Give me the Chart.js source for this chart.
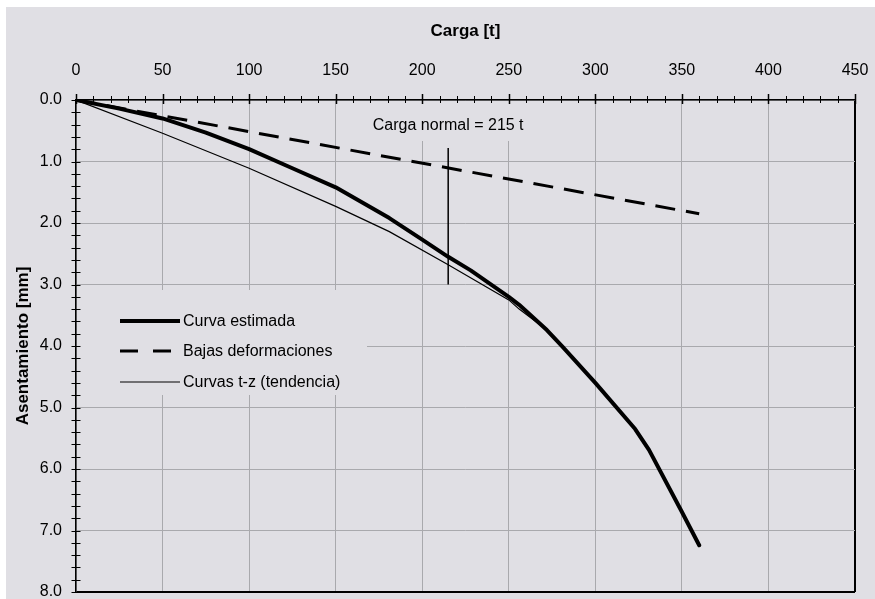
<!DOCTYPE html>
<html>
<head>
<meta charset="utf-8">
<script src="https://cdn.jsdelivr.net/npm/chart.js@4.4.1/dist/chart.umd.min.js"></script>
<style>
  html, body { margin: 0; padding: 0; background: #fff; }
  canvas { display: block; }
</style>
</head>
<body>
<canvas id="grafico" width="875" height="599"></canvas>
<script>
// Curva estimada (carga [t] -> asentamiento [mm])
const cargaEstimada = [0, 25, 50, 75, 100, 125, 150, 181, 200, 215, 228, 250, 256, 272, 281, 300, 323, 331, 349.5, 360];
const asentEstimada = [0, 0.14, 0.30, 0.53, 0.80, 1.11, 1.42, 1.92, 2.27, 2.55, 2.77, 3.20, 3.33, 3.74, 4.01, 4.60, 5.35, 5.69, 6.67, 7.24];

// Bajas deformaciones (recta)
const cargaBajas = [0, 360];
const asentBajas = [0, 1.85];

// Curvas t-z (tendencia)
const cargaTz = [0, 50, 100, 150, 181, 215, 250, 256, 272, 281, 300];
const asentTz = [0, 0.54, 1.11, 1.73, 2.14, 2.68, 3.25, 3.40, 3.74, 4.01, 4.60];

// Linea de carga normal
const cargaNormal = 215;
const asentNormal = [0.78, 3.0];

const ticksCarga = [0, 50, 100, 150, 200, 250, 300, 350, 400, 450];
const ticksAsent = [0, 1, 2, 3, 4, 5, 6, 7, 8];

const etiquetas = ['Curva estimada', 'Bajas deformaciones', 'Curvas t-z (tendencia)'];
const textoNormal = 'Carga normal = 215 t';

const FONDO = '#e0dfe4';
const REJILLA = '#a9a9ad';
const FUENTE = '"Liberation Sans", Arial, sans-serif';

const pares = (xs, ys) => xs.map((v, i) => ({ x: v, y: ys[i] }));

Chart.defaults.font.family = FUENTE;
Chart.defaults.font.size = 16;
Chart.defaults.color = '#000';

// fondo gris (con borde blanco arriba e izquierda)
const fondo = {
  id: 'fondo',
  beforeDraw(chart) {
    const c = chart.ctx;
    c.save();
    c.fillStyle = FONDO;
    c.fillRect(6, 7, chart.width - 6, chart.height - 7);
    c.restore();
  }
};

// cajas de leyenda y texto de carga normal (tapan la rejilla)
const cajas = {
  id: 'cajas',
  beforeDatasetsDraw(chart) {
    const { ctx, chartArea: a, scales: { x } } = chart;
    ctx.save();
    ctx.font = '16px ' + FUENTE;

    // texto carga normal
    const cx = x.getPixelForValue(cargaNormal);
    const w = ctx.measureText(textoNormal).width;
    ctx.fillStyle = FONDO;
    ctx.fillRect(cx - w / 2 - 12, a.top + 1, w + 24, 40);
    ctx.fillStyle = '#000';
    ctx.textAlign = 'center';
    ctx.textBaseline = 'middle';
    ctx.fillText(textoNormal, cx, a.top + 26);

    // leyenda
    const lx = a.left + 1, ly = a.top + 190;
    ctx.fillStyle = FONDO;
    ctx.fillRect(lx, ly, 290, 105);
    const filas = [ly + 31, ly + 61, ly + 92];
    const x0 = a.left + 44, x1 = a.left + 104;
    ctx.strokeStyle = '#000';
    ctx.lineCap = 'butt';
    // curva estimada
    ctx.lineWidth = 4;
    ctx.beginPath(); ctx.moveTo(x0, filas[0]); ctx.lineTo(x1, filas[0]); ctx.stroke();
    // bajas deformaciones
    ctx.lineWidth = 3;
    ctx.setLineDash([18, 15]);
    ctx.beginPath(); ctx.moveTo(x0, filas[1]); ctx.lineTo(x1, filas[1]); ctx.stroke();
    ctx.setLineDash([]);
    // t-z
    ctx.lineWidth = 1.2;
    ctx.beginPath(); ctx.moveTo(x0, filas[2]); ctx.lineTo(x1, filas[2]); ctx.stroke();

    ctx.fillStyle = '#000';
    ctx.textAlign = 'left';
    ctx.textBaseline = 'middle';
    etiquetas.forEach((t, i) => ctx.fillText(t, x1 + 3, filas[i] + 1));
    ctx.restore();
  },
  afterDraw(chart) {
    const { ctx, chartArea: a, scales: { x, y } } = chart;
    ctx.save();
    ctx.strokeStyle = '#000';
    // marcas del eje de carga (cada 10 t)
    for (let v = 0; v <= 450; v += 10) {
      const mayor = v % 50 === 0;
      const px = Math.round(x.getPixelForValue(v)) + 0.5;
      ctx.lineWidth = mayor ? 1.5 : 1;
      ctx.beginPath();
      ctx.moveTo(px, a.top - (mayor ? 6 : 4));
      ctx.lineTo(px, a.top + (mayor ? 4 : 3));
      ctx.stroke();
    }
    // marcas del eje de asentamiento (cada 0.2 mm)
    for (let i = 0; i <= 40; i++) {
      const py = Math.round(y.getPixelForValue(i * 0.2)) + 0.5;
      ctx.lineWidth = 1;
      ctx.beginPath();
      ctx.moveTo(a.left - 4.5, py);
      ctx.lineTo(a.left + 4.5, py);
      ctx.stroke();
    }
    ctx.restore();
  }
};

const colorRejilla = (max) => (c) => (c.tick && c.tick.value === max ? '#000' : REJILLA);
const anchoRejilla = (max) => (c) => (c.tick && c.tick.value === max ? 2 : 1);

new Chart(document.getElementById('grafico'), {
  type: 'scatter',
  data: {
    datasets: [
      {
        label: etiquetas[0],
        data: pares(cargaEstimada, asentEstimada),
        showLine: true,
        borderColor: '#000',
        borderWidth: 4,
        pointRadius: 0,
        borderJoinStyle: 'round',
        borderCapStyle: 'round'
      },
      {
        label: etiquetas[1],
        data: pares(cargaBajas, asentBajas),
        showLine: true,
        borderColor: '#000',
        borderWidth: 3,
        borderDash: [20, 11],
        pointRadius: 0
      },
      {
        label: etiquetas[2],
        data: pares(cargaTz, asentTz),
        showLine: true,
        borderColor: '#000',
        borderWidth: 1.2,
        pointRadius: 0
      },
      {
        label: 'Carga normal',
        data: asentNormal.map(v => ({ x: cargaNormal, y: v })),
        showLine: true,
        borderColor: '#000',
        borderWidth: 1.5,
        pointRadius: 0
      }
    ]
  },
  options: {
    responsive: false,
    animation: false,
    layout: { padding: { left: 0, top: 0, right: 20, bottom: 7 } },
    plugins: {
      legend: { display: false },
      tooltip: { enabled: false }
    },
    scales: {
      x: {
        type: 'linear',
        position: 'top',
        min: 0,
        max: 450,
        afterBuildTicks: (s) => { s.ticks = ticksCarga.map(v => ({ value: v })); },
        afterFit: (s) => { s.height = 100; s.paddingLeft = 0; s.paddingRight = 0; },
        ticks: { padding: 20, maxRotation: 0, color: '#000' },
        grid: { drawTicks: false, color: colorRejilla(450), lineWidth: anchoRejilla(450) },
        border: { display: true, color: '#000', width: 1.5 },
        title: {
          display: true,
          text: 'Carga [t]',
          font: { size: 17, weight: 'bold' },
          padding: { top: 21, bottom: 0 },
          color: '#000'
        }
      },
      y: {
        type: 'linear',
        reverse: true,
        min: 0,
        max: 8,
        afterBuildTicks: (s) => { s.ticks = ticksAsent.map(v => ({ value: v })); },
        afterFit: (s) => { s.width = 76; s.paddingTop = 0; s.paddingBottom = 0; },
        ticks: { padding: 14, color: '#000', callback: (v) => v.toFixed(1) },
        grid: { drawTicks: false, color: colorRejilla(8), lineWidth: anchoRejilla(8) },
        border: { display: true, color: '#000', width: 1.5 },
        title: {
          display: true,
          text: 'Asentamiento [mm]',
          font: { size: 17, weight: 'bold' },
          padding: { top: 13, bottom: 0 },
          color: '#000'
        }
      }
    }
  },
  plugins: [fondo, cajas]
});
</script>
</body>
</html>
